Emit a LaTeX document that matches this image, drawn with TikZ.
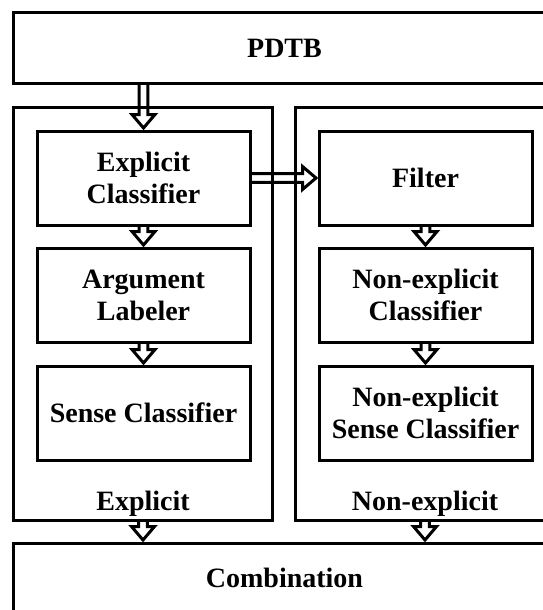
\documentclass[tikz,border=0pt]{standalone}
\usepackage{fontspec}
\setmainfont{Liberation Serif}
\usetikzlibrary{calc}
\tikzset{
  box/.style={draw, line width=3pt, rectangle, inner sep=0pt, align=center,
    font=\fontsize{28}{32}\selectfont\bfseries},
  lbl/.style={inner sep=0pt, anchor=base, font=\fontsize{28}{32}\selectfont\bfseries},
  hollowdown/.style={line width=3pt, line join=miter, to path={
    let \p1=(\tikztostart), \p2=(\tikztotarget) in
    (\x1-4.3pt,\y1) -- (\x1-4.3pt,\y2+15pt) -- (\x1-11.5pt,\y2+15pt) -- (\x1,\y2+1.5pt)
    -- (\x1+11.5pt,\y2+15pt) -- (\x1+4.3pt,\y2+15pt) -- (\x1+4.3pt,\y1)
  }},
  hollowright/.style={line width=3pt, line join=miter, to path={
    let \p1=(\tikztostart), \p2=(\tikztotarget) in
    (\x1,\y1+4.3pt) -- (\x2-15pt,\y1+4.3pt) -- (\x2-15pt,\y1+11.5pt) -- (\x2-1.5pt,\y1)
    -- (\x2-15pt,\y1-11.5pt) -- (\x2-15pt,\y1-4.3pt) -- (\x1,\y1-4.3pt)
  }},
}
\begin{document}
\begin{tikzpicture}[x=1pt, y=-1pt]
\useasboundingbox (0,0) rectangle (543,610);
\fill[white] (0,0) rectangle (543,610);
\clip (0,0) rectangle (543,610);
% top and bottom boxes
\node[box, minimum width=543, minimum height=70] (pdtb) at (284.5,48) {PDTB};
\node[box, minimum width=543, minimum height=70] (comb) at (284.5,578) {Combination};
% containers
\node[box, minimum width=259, minimum height=413] (leftc) at (143,313.5) {};
\node[box, minimum width=260, minimum height=413] (rightc) at (425,313.5) {};
\node[lbl] (lleft) at (143,510) {Explicit};
\node[lbl] (lright) at (425,510) {Non-explicit};
% left column
\node[box, minimum width=213, minimum height=94] (ec) at (143.5,178) {Explicit\\Classifier};
\node[box, minimum width=213, minimum height=94] (al) at (143.5,295) {Argument\\Labeler};
\node[box, minimum width=213, minimum height=94] (sc) at (143.5,413) {Sense Classifier};
% right column
\node[box, minimum width=213, minimum height=94] (fi) at (425.5,178) {Filter};
\node[box, minimum width=213, minimum height=94] (nec) at (425.5,295) {Non-explicit\\Classifier};
\node[box, minimum width=213, minimum height=94] (nesc) at (425.5,413) {Non-explicit\\Sense Classifier};
% arrows
\draw[hollowdown] (pdtb.south -| ec.north) to (ec.north);
\draw[hollowdown] (ec.south) to (al.north);
\draw[hollowdown] (al.south) to (sc.north);
\draw[hollowdown] (fi.south) to (nec.north);
\draw[hollowdown] (nec.south) to (nesc.north);
\draw[hollowright] (ec.east) to (fi.west);
\draw[hollowdown] (leftc.south) to (leftc.south |- comb.north);
\draw[hollowdown] (rightc.south) to (rightc.south |- comb.north);
\end{tikzpicture}
\end{document}
